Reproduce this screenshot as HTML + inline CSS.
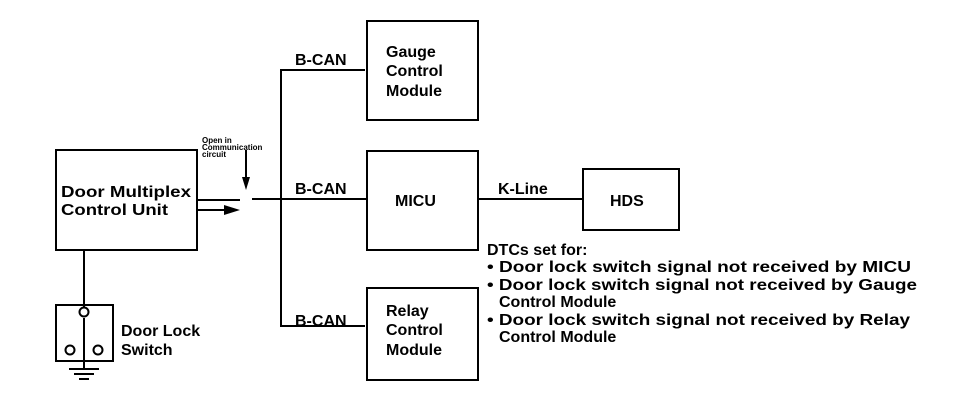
<!DOCTYPE html>
<html><head><meta charset="utf-8"><style>body{margin:0;background:#fff}svg{display:block}</style></head>
<body>
<svg width="960" height="408" viewBox="0 0 960 408" xmlns="http://www.w3.org/2000/svg" font-family="Liberation Sans, sans-serif" font-weight="bold" fill="#000">
<g fill="none" stroke="#000" stroke-width="2">
<rect x="56" y="150" width="141" height="100"/>
<rect x="367" y="21" width="111" height="99"/>
<rect x="367" y="151" width="111" height="99"/>
<rect x="583" y="169" width="96" height="61"/>
<rect x="367" y="288" width="111" height="92"/>
<rect x="56" y="305" width="57" height="56"/>
<polyline points="365,70 281,70 281,326 365,326"/>
<line x1="252" y1="199" x2="366" y2="199"/>
<line x1="478" y1="199" x2="583" y2="199"/>
<line x1="197" y1="200" x2="240" y2="200"/>
<line x1="197" y1="210" x2="225" y2="210"/>
<line x1="84" y1="250" x2="84" y2="307"/>
<line x1="84" y1="318" x2="84" y2="362"/>
<line x1="69" y1="369" x2="99" y2="369"/>
<line x1="74" y1="374" x2="94" y2="374"/>
<line x1="79" y1="379" x2="89" y2="379"/>
<line x1="246" y1="150" x2="246" y2="180"/>
</g>
<line x1="84" y1="361" x2="84" y2="369" stroke="#000" stroke-width="2"/>
<polygon points="224,205 240,210 224,215"/>
<polygon points="242,177 250,177 246,190"/>
<g fill="#fff" stroke="#000" stroke-width="2">
<circle cx="84" cy="312" r="4.5"/><circle cx="70" cy="350" r="4.5"/><circle cx="98" cy="350" r="4.5"/>
</g>
<g font-size="8">
<text x="202" y="143">Open in</text>
<text x="202" y="150">Communication</text>
<text x="202" y="157">circuit</text>
</g>
<g font-size="16">
<text x="61" y="197" textLength="130" lengthAdjust="spacingAndGlyphs">Door Multiplex</text>
<text x="61" y="215" textLength="107" lengthAdjust="spacingAndGlyphs">Control Unit</text>
<text x="121" y="336">Door Lock</text>
<text x="121" y="355">Switch</text>
<text x="295" y="65">B-CAN</text>
<text x="295" y="194">B-CAN</text>
<text x="295" y="326">B-CAN</text>
<text x="386" y="57">Gauge</text>
<text x="386" y="76">Control</text>
<text x="386" y="96">Module</text>
<text x="395" y="206">MICU</text>
<text x="498" y="194">K-Line</text>
<text x="610" y="206">HDS</text>
<text x="386" y="316">Relay</text>
<text x="386" y="335">Control</text>
<text x="386" y="355">Module</text>
<text x="487" y="255">DTCs set for:</text>
<text x="487" y="272" textLength="424" lengthAdjust="spacingAndGlyphs">• Door lock switch signal not received by MICU</text>
<text x="487" y="290" textLength="430" lengthAdjust="spacingAndGlyphs">• Door lock switch signal not received by Gauge</text>
<text x="499" y="307">Control Module</text>
<text x="487" y="325" textLength="423" lengthAdjust="spacingAndGlyphs">• Door lock switch signal not received by Relay</text>
<text x="499" y="342">Control Module</text>
</g>
</svg>
</body></html>
